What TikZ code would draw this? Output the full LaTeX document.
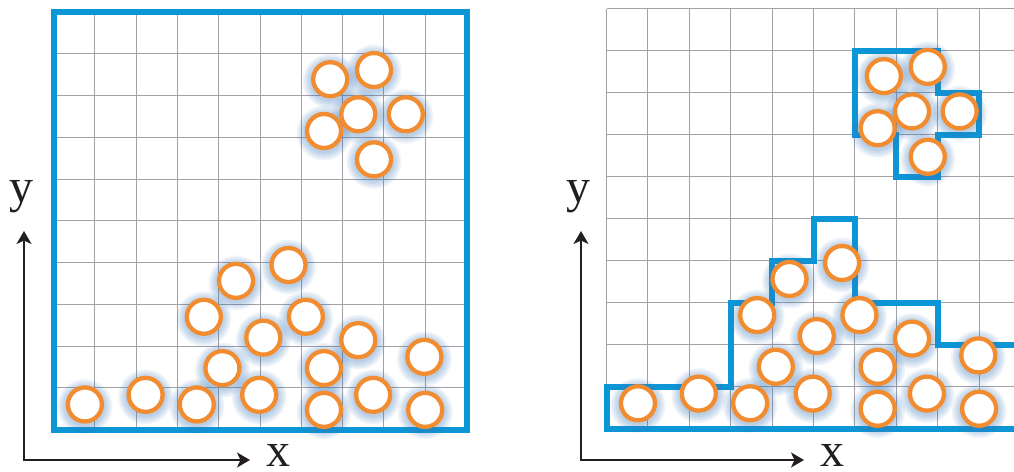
\documentclass[tikz,border=0pt]{standalone}
\usepackage{fontspec}
\newfontfamily\labfont{Liberation Serif}
\usetikzlibrary{arrows.meta}
\definecolor{bluec}{RGB}{12,150,214}
\definecolor{orangec}{RGB}{242,140,48}
\definecolor{gridc}{RGB}{160,160,166}
\definecolor{shadowc}{RGB}{60,120,185}
\definecolor{axisc}{RGB}{35,31,32}
\tikzset{
  gridline/.style={draw=gridc, line width=1pt},
  blueline/.style={draw=bluec, line width=6pt, line join=miter},
  ball/.style={circle, draw=orangec, line width=4.3pt, fill=white, minimum size=34pt, inner sep=0pt},
  axisline/.style={draw=axisc, line width=1.8pt, {Stealth[length=13pt,width=15pt,inset=3.5pt]}-{Stealth[length=13pt,width=15pt,inset=3.5pt]}},
  axislabel/.style={font=\labfont\fontsize{48}{48}\selectfont, text=axisc, inner sep=0pt, anchor=base}
}
\newcommand{\balllist}{6.70/8.39, 7.76/8.61, 7.38/7.55, 8.53/7.55, 6.55/7.15, 7.76/6.47,
  5.69/3.94, 4.42/3.56, 3.64/2.70, 6.11/2.70, 5.08/2.20, 7.38/2.14, 8.98/1.74,
  4.09/1.47, 6.55/1.47, 0.76/0.60, 2.23/0.83, 3.47/0.60, 4.98/0.83, 7.74/0.83,
  6.55/0.47, 9.00/0.47}
\newcommand{\drawballs}[1]{%
  \foreach \bx/\by in \balllist {
    \foreach \rr in {20,21.5,23,24.5,26,27.5} {
      \fill[shadowc, opacity=0.07] ([yshift=-2pt]\bx,\by) circle (\rr pt);
    }
  }
  \foreach \bx/\by [count=\i] in \balllist {
    \node[ball] (#1\i) at (\bx,\by) {};
  }
}
\begin{document}
\begin{tikzpicture}[x=1pt,y=-1pt]
\useasboundingbox (0,0) rectangle (1014,471);
% left panel
\begin{scope}[shift={(53.5,429.5)}, x=41.3pt, y=41.75pt]
  \foreach \k in {1,...,9} {
    \draw[gridline] (\k,0) -- (\k,10);
    \draw[gridline] (0,\k) -- (10,\k);
  }
  \draw[blueline] (0,0) rectangle (10,10);
  \drawballs{L}
\end{scope}
% right panel
\begin{scope}
  \clip (0,0) rectangle (1014,471);
  \begin{scope}[shift={(606.5,428.5)}, x=41.4pt, y=42pt]
    \foreach \k in {0,...,10} {
      \draw[gridline] (\k,0) -- (\k,10);
      \draw[gridline] (0,\k) -- (10.5,\k);
    }
    \draw[blueline] (0,0) -- (0,1) -- (3,1) -- (3,3) -- (4,3) -- (4,4) -- (5,4) -- (5,5) -- (6,5) -- (6,3) -- (8,3) -- (8,2) -- (10.5,2) -- (10.5,0) -- cycle;
    \draw[blueline] (6,9) -- (8,9) -- (8,8) -- (9,8) -- (9,7) -- (8,7) -- (8,6) -- (7,6) -- (7,7) -- (6,7) -- cycle;
    \drawballs{R}
  \end{scope}
\end{scope}
% axes left
\coordinate (LO) at (24,460);
\coordinate (LY) at (24,231);
\coordinate (LX) at (250,460);
\draw[axisline] (LY) -- (LO) -- (LX);
\node[axislabel] (Lylab) at (21.5,202) {y};
\node[axislabel] (Lxlab) at (278,466) {x};
% axes right
\coordinate (RO) at (581,460);
\coordinate (RY) at (581,231);
\coordinate (RX) at (804,460);
\draw[axisline] (RY) -- (RO) -- (RX);
\node[axislabel] (Rylab) at (578,202) {y};
\node[axislabel] (Rxlab) at (832.5,466) {x};
\end{tikzpicture}
\end{document}
